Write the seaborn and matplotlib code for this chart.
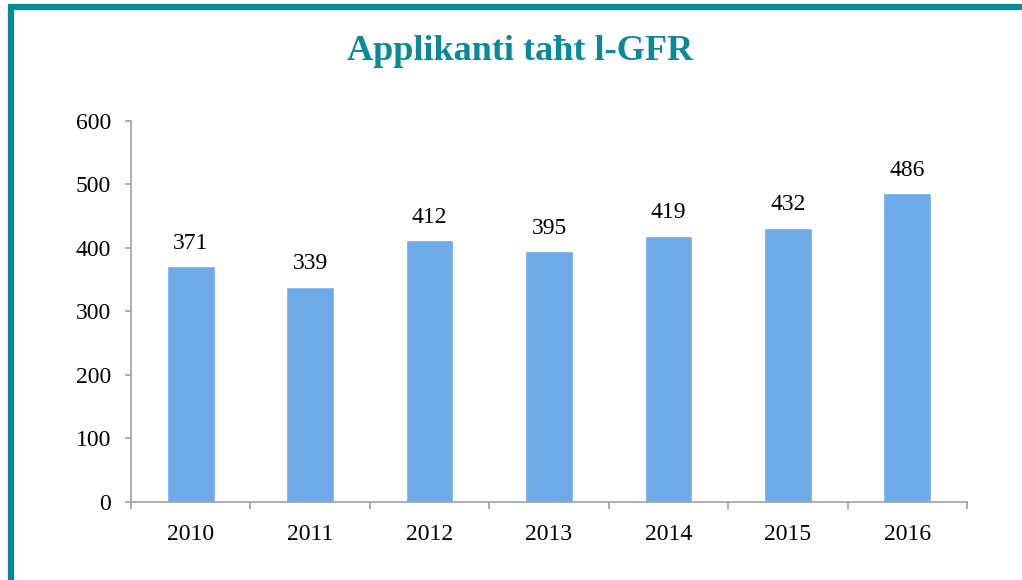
import pandas as pd
import seaborn as sns
import matplotlib.pyplot as plt
from matplotlib.lines import Line2D

years = ["2010", "2011", "2012", "2013", "2014", "2015", "2016"]
applicants = [371, 339, 412, 395, 419, 432, 486]

df = pd.DataFrame({"year": years, "applicants": applicants})

sns.set_style("white")
plt.rcParams['font.family'] = ['Liberation Serif', 'DejaVu Serif']
plt.rcParams['text.color'] = 'black'
plt.rcParams['xtick.color'] = 'black'
plt.rcParams['ytick.color'] = 'black'

fig = plt.figure(figsize=(10.22, 5.8), dpi=100)
ax = fig.add_axes([0.1282, 0.1345, 0.818, 0.657])

sns.barplot(data=df, x="year", y="applicants", color="#6EA9E8", width=0.4,
            saturation=1, ax=ax)
ax.bar_label(ax.containers[0], fontsize=17, padding=9, color="black")

ax.set_xlim(-0.5, 6.5)
ax.set_ylim(0, 600)
ax.set_yticks(range(0, 601, 100))
ax.set_xlabel("")
ax.set_ylabel("")

# ticks sit between the categories
ax.set_xticks([i - 0.5 for i in range(8)], minor=True)
ax.tick_params(axis="x", which="both", bottom=True)
ax.tick_params(axis="x", which="major", length=0, pad=15.5, labelsize=17)
ax.tick_params(axis="x", which="minor", length=5, width=1.2, color="#A0A0A0", direction="out")
ax.tick_params(axis="y", left=True, length=4.3, width=1.2, color="#A0A0A0", direction="out",
               pad=10, labelsize=17)

for s in ["top", "right"]:
    ax.spines[s].set_visible(False)
for s in ["left", "bottom"]:
    ax.spines[s].set_color("#A0A0A0")
    ax.spines[s].set_linewidth(1.2)

fig.text(0.509, 0.912, "Applikanti taħt l-GFR", ha="center", va="center",
         fontsize=26, fontweight="bold", color="#0A8A98")

# teal frame on top and left
fig.add_artist(Line2D([0.0078, 1.0], [0.9879, 0.9879], color="#058A9A", lw=4.5,
                      solid_capstyle="butt", transform=fig.transFigure))
fig.add_artist(Line2D([0.0103, 0.0103], [0.0, 0.9918], color="#058A9A", lw=4.5,
                      solid_capstyle="butt", transform=fig.transFigure))

fig.savefig("out.png", dpi=100)
